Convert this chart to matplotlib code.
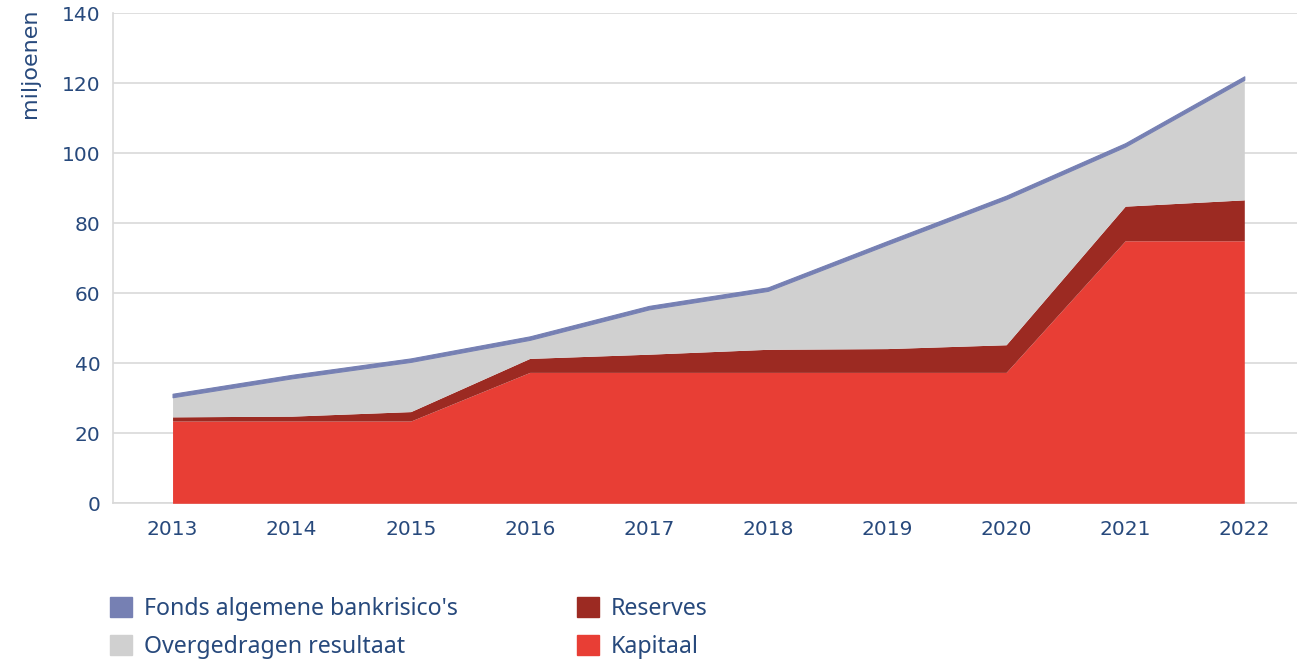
import matplotlib
matplotlib.use("Agg")
import matplotlib.pyplot as plt
from matplotlib.patches import Patch
import numpy as np

years = [2013, 2014, 2015, 2016, 2017, 2018, 2019, 2020, 2021, 2022]
kapitaal = [23.5, 23.5, 23.5, 37.4, 37.4, 37.4, 37.4, 37.4, 75.0, 75.0]
reserves = [1.2, 1.4, 2.7, 4.0, 5.2, 6.6, 6.8, 7.9, 9.9, 11.7]
overgedragen = [5.6, 10.8, 14.2, 5.3, 12.8, 16.7, 29.7, 41.6, 17.0, 34.3]
fonds = [1.0, 1.0, 1.0, 1.0, 1.0, 1.0, 1.0, 1.0, 1.0, 1.0]

labels = ["Kapitaal", "Reserves", "Overgedragen resultaat", "Fonds algemene bankrisico's"]
colors = ["#e83e35", "#9c2a22", "#d0d0d0", "#7680b3"]
yticks = [0, 20, 40, 60, 80, 100, 120, 140]

text_color = "#27497c"
grid_color = "#d9d9d9"

fig = plt.figure(figsize=(12.97, 6.59), dpi=100)
ax = fig.add_axes([113 / 1297, 1 - 503.3 / 659, 1 - 113 / 1297, 490 / 659])

x = np.array(years, dtype=float)
series = [np.array(s, dtype=float) for s in (kapitaal, reserves, overgedragen, fonds)]
base = np.zeros_like(x)
for s, c in zip(series, colors):
    top = base + s
    lw = 0.8 if c == colors[3] else 0
    ax.fill_between(x, base, top, color=c, linewidth=lw, edgecolor=c, zorder=3)
    base = top

ax.set_xlim(2012.5, 2022 + (1297 - 1244.3) / 119.07)
ax.set_ylim(0, 140)
ax.set_xticks(years)
ax.set_yticks(yticks)
ax.grid(axis="y", color=grid_color, linewidth=1.2, zorder=0)
ax.set_axisbelow(True)
for side in ["top", "right"]:
    ax.spines[side].set_visible(False)
for side in ["left", "bottom"]:
    ax.spines[side].set_color(grid_color)
    ax.spines[side].set_linewidth(1.2)
ax.tick_params(axis="both", length=0, colors=text_color, labelsize=14.5)
ax.tick_params(axis="y", pad=9)
ax.tick_params(axis="x", pad=12)

fig.text(30 / 1297, 1 - 8 / 659, "miljoenen", rotation=90, ha="center", va="top",
         color=text_color, fontsize=16)

leg_kw = dict(loc="upper left", frameon=False, borderpad=0, borderaxespad=0,
              prop={"family": "Noto Sans", "size": 16.7},
              handlelength=0.95, handleheight=0.95, handletextpad=0.5,
              labelspacing=0.6, labelcolor=text_color)
fig.legend([Patch(color=colors[3]), Patch(color=colors[2])], [labels[3], labels[2]],
           bbox_to_anchor=(110 / 1297, 1 - 597 / 659), **leg_kw)
fig.legend([Patch(color=colors[1]), Patch(color=colors[0])], [labels[1], labels[0]],
           bbox_to_anchor=(577 / 1297, 1 - 597 / 659), **leg_kw)

fig.savefig("out.png", dpi=100)
